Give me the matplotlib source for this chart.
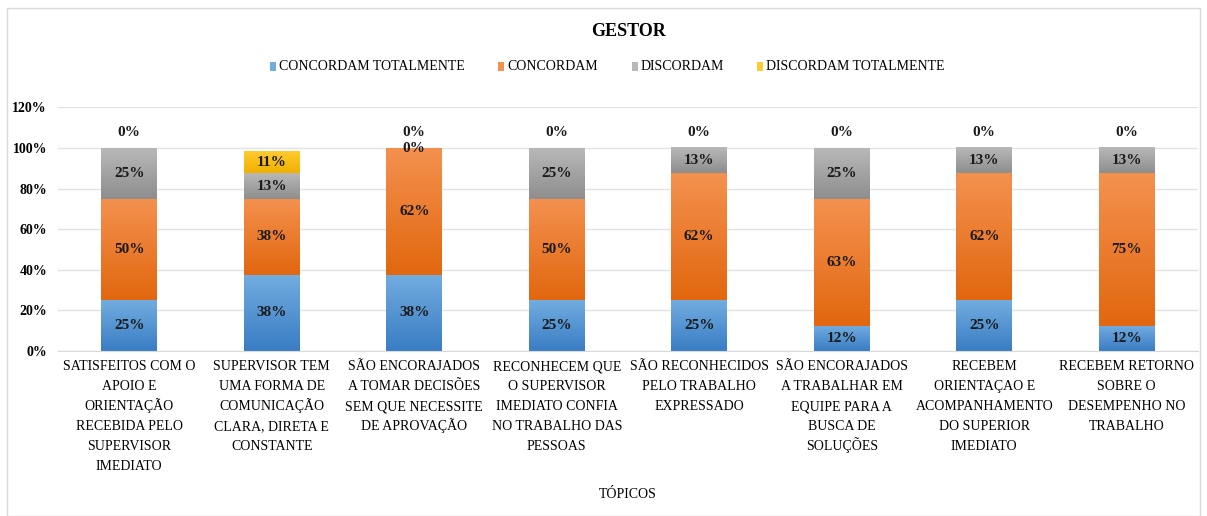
import numpy as np
import matplotlib
matplotlib.use("Agg")
import matplotlib.pyplot as plt
from matplotlib.colors import LinearSegmentedColormap
from matplotlib.patches import Rectangle

plt.rcParams["font.family"] = ["Liberation Serif", "DejaVu Serif"]

# dados
topicos = [
    "SATISFEITOS COM O\nAPOIO E\nORIENTAÇÃO\nRECEBIDA PELO\nSUPERVISOR\nIMEDIATO",
    "SUPERVISOR TEM\nUMA FORMA DE\nCOMUNICAÇÃO\nCLARA, DIRETA E\nCONSTANTE",
    "SÃO ENCORAJADOS\nA TOMAR DECISÕES\nSEM QUE NECESSITE\nDE APROVAÇÃO",
    "RECONHECEM QUE\nO SUPERVISOR\nIMEDIATO CONFIA\nNO TRABALHO DAS\nPESSOAS",
    "SÃO RECONHECIDOS\nPELO TRABALHO\nEXPRESSADO",
    "SÃO ENCORAJADOS\nA TRABALHAR EM\nEQUIPE PARA A\nBUSCA DE\nSOLUÇÕES",
    "RECEBEM\nORIENTAÇAO E\nACOMPANHAMENTO\nDO SUPERIOR\nIMEDIATO",
    "RECEBEM RETORNO\nSOBRE O\nDESEMPENHO NO\nTRABALHO",
]
series = ["CONCORDAM TOTALMENTE", "CONCORDAM", "DISCORDAM", "DISCORDAM TOTALMENTE"]

concordam_total = [25, 37.5, 37.5, 25, 25, 12.5, 25, 12.5]
concordam = [50, 37.5, 62.5, 50, 62.5, 62.5, 62.5, 75]
discordam = [25, 12.5, 0, 25, 12.5, 25, 12.5, 12.5]
discordam_total = [0, 10.5, 0, 0, 0, 0, 0, 0]

# rótulos como aparecem no gráfico
lbl_concordam_total = ["25%", "38%", "38%", "25%", "25%", "12%", "25%", "12%"]
lbl_concordam = ["50%", "38%", "62%", "50%", "62%", "63%", "62%", "75%"]
lbl_discordam = ["25%", "13%", "0%", "25%", "13%", "25%", "13%", "13%"]
lbl_discordam_total = ["0%", "11%", "0%", "0%", "0%", "0%", "0%", "0%"]

valores = [concordam_total, concordam, discordam, discordam_total]
rotulos = [lbl_concordam_total, lbl_concordam, lbl_discordam, lbl_discordam_total]

# (cor do topo, cor da base) para o degradê estilo Excel
cores = [
    ("#72ACE0", "#3A7DC4"),
    ("#F4914F", "#E2670F"),
    ("#B8B8B8", "#8E8E8E"),
    ("#FFCB2E", "#F0B000"),
]

W, H = 1207, 516
fig = plt.figure(figsize=(W / 100, H / 100), dpi=100)
ax = fig.add_axes([58 / W, 165 / H, 1140 / W, 243.6 / H])

x = np.arange(len(topicos))
largura = 0.39
base = np.zeros(len(topicos))
grad = np.linspace(0, 1, 64).reshape(-1, 1)
for k, (vals, labs, (c_top, c_bot)) in enumerate(zip(valores, rotulos, cores)):
    vals = np.array(vals, dtype=float)
    cmap = LinearSegmentedColormap.from_list("g", [c_bot, c_top])
    for i in range(len(x)):
        if vals[i] > 0:
            ext = (x[i] - largura / 2, x[i] + largura / 2, base[i], base[i] + vals[i])
            ax.imshow(grad, extent=ext, origin="lower", cmap=cmap, aspect="auto",
                      interpolation="bicubic", zorder=2)
        y = base[i] + vals[i] / 2
        if vals[i] == 0 and k == len(valores) - 1:
            y = base[i] + 7.5
        ax.text(x[i], y, labs[i], ha="center", va="center", fontsize=11,
                fontweight="bold", color="#1a1a1a", zorder=4)
    base += vals

ax.set_xlim(-0.5, len(topicos) - 0.5)
ax.set_ylim(0, 120)
ax.set_yticks(np.arange(0, 121, 20))
ax.set_yticklabels([f"{v}%" for v in range(0, 121, 20)], fontsize=10, fontweight="bold")
ax.set_xticks(x)
ax.set_xticklabels([])
ax.tick_params(length=0)
ax.tick_params(axis="y", pad=8)
ax.grid(axis="y", color="#E3E3E3", linewidth=1, zorder=0)
ax.set_axisbelow(True)
for s in ["top", "right", "left"]:
    ax.spines[s].set_visible(False)
ax.spines["bottom"].set_color("#D9D9D9")

# rótulos das categorias, linha a linha (linha de base fixa, evita saltos com acentos)
for i, t in enumerate(topicos):
    for j, linha in enumerate(t.split("\n")):
        ax.annotate(linha, xy=(x[i], 0), xycoords=("data", "axes fraction"),
                    xytext=(0, -14 - 14.4 * j), textcoords="offset points",
                    ha="center", va="baseline", fontsize=10)

fig.text(628 / W, 1 - 32 / H, "GESTOR", ha="center", va="center",
         fontsize=13, fontweight="bold")
fig.text(628 / W, 1 - 494 / H, "TÓPICOS", ha="center", va="center", fontsize=10)

# legenda manual
leg_marcador = [270, 498, 632, 757]
for xm, nome, c in zip(leg_marcador, series, cores):
    fig.patches.append(Rectangle((xm / W, 1 - 71 / H), 6 / W, 9 / H,
                                 transform=fig.transFigure, facecolor=c[0],
                                 edgecolor="none"))
    fig.text((xm + 9) / W, 1 - 66.5 / H, nome, ha="left", va="center", fontsize=10)

fig.patches.append(Rectangle((7 / W, 0), 1193 / W, 1 - 8 / H, transform=fig.transFigure,
                             fill=False, edgecolor="#D9D9D9", linewidth=1))

fig.savefig("out.png", dpi=100)
